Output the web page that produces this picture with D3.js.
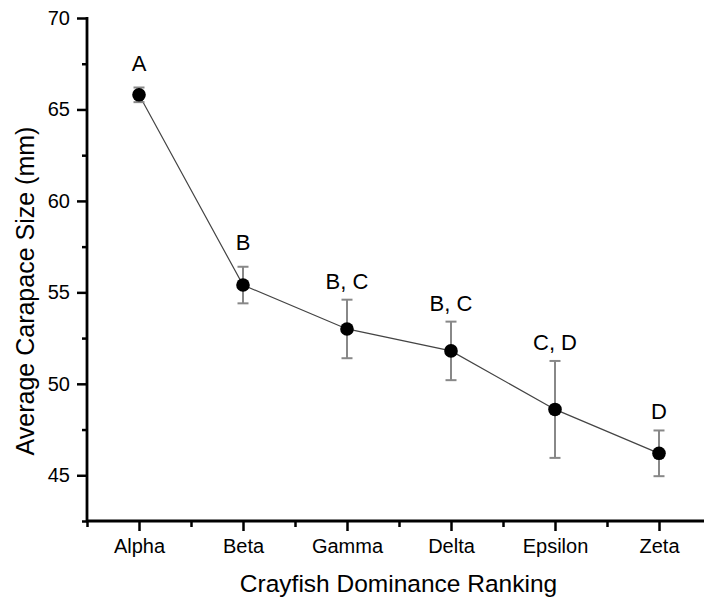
<!DOCTYPE html>
<html>
<head>
<meta charset="utf-8">
<script src="https://cdn.jsdelivr.net/npm/d3@7"></script>
<style>
  body { margin: 0; background: #fff; }
  svg text { font-family: "Liberation Sans", Arial, sans-serif; fill: #000; }
</style>
</head>
<body>
<svg id="chart"></svg>
<script>
// data
const categories = ['Alpha', 'Beta', 'Gamma', 'Delta', 'Epsilon', 'Zeta'];
const means = [65.8, 55.4, 53.0, 51.8, 48.6, 46.2];
const errors = [0.4, 1.0, 1.6, 1.6, 2.65, 1.25];
const letters = ['A', 'B', 'B, C', 'B, C', 'C, D', 'D'];
const yTicks = [45, 50, 55, 60, 65, 70];

const width = 704, height = 602;
const svg = d3.select('#chart').attr('width', width).attr('height', height);

const x = d3.scaleLinear().domain([0.5, 6.5]).range([87, 711]);
const y = d3.scaleLinear().domain([42.5, 70]).range([521, 18]);

const points = categories.map((c, i) => ({
    name: c, idx: i + 1, mean: means[i], err: errors[i], letter: letters[i]
}));

// y axis
const yAxis = svg.append('g').attr('transform', 'translate(87,0)');
yAxis.append('g')
    .call(d3.axisLeft(y).tickValues(d3.range(42.5, 70.01, 2.5).filter(v => v % 5 !== 0)).tickSize(5).tickFormat(''))
    .call(g => g.select('.domain').remove())
    .selectAll('line').attr('stroke-width', 2.5);
yAxis.append('g')
    .call(d3.axisLeft(y).tickValues(yTicks).tickSize(10).tickPadding(7))
    .call(g => g.select('.domain').remove())
    .call(g => g.selectAll('line').attr('stroke-width', 2.5))
    .call(g => g.selectAll('text').style('font-size', '20px'));
yAxis.append('line')
    .attr('x1', 0).attr('x2', 0).attr('y1', y(70) - 1).attr('y2', y(42.5) + 1)
    .attr('stroke', '#000').attr('stroke-width', 2.8);

// x axis
const xAxis = svg.append('g').attr('transform', 'translate(0,521)');
xAxis.append('g')
    .call(d3.axisBottom(x).tickValues(d3.range(0.5, 6.6, 1)).tickSize(6).tickFormat(''))
    .call(g => g.select('.domain').remove())
    .selectAll('line').attr('stroke-width', 2.5);
xAxis.append('g')
    .call(d3.axisBottom(x).tickValues(points.map(d => d.idx)).tickSize(10).tickPadding(8)
        .tickFormat(d => categories[d - 1]))
    .call(g => g.select('.domain').remove())
    .call(g => g.selectAll('line').attr('stroke-width', 2.5))
    .call(g => g.selectAll('text').style('font-size', '20px'));
xAxis.append('line')
    .attr('x1', 86).attr('x2', 711).attr('y1', 0).attr('y2', 0)
    .attr('stroke', '#000').attr('stroke-width', 2.8);

// axis titles
svg.append('text')
    .attr('x', (240 + 557) / 2).attr('y', 592)
    .attr('text-anchor', 'middle')
    .style('font-size', '24.5px')
    .text('Crayfish Dominance Ranking');
svg.append('text')
    .attr('transform', 'translate(34,291) rotate(-90)')
    .attr('text-anchor', 'middle')
    .style('font-size', '25px')
    .text('Average Carapace Size (mm)');

// connecting line
svg.append('path')
    .datum(points)
    .attr('fill', 'none')
    .attr('stroke', '#444')
    .attr('stroke-width', 1.2)
    .attr('d', d3.line().x(d => x(d.idx)).y(d => y(d.mean)));

// error bars
const bars = svg.append('g').attr('stroke', '#888').attr('stroke-width', 2);
bars.selectAll('line.v')
    .data(points).join('line').attr('class', 'v')
    .attr('x1', d => x(d.idx)).attr('x2', d => x(d.idx))
    .attr('y1', d => y(d.mean + d.err)).attr('y2', d => y(d.mean - d.err));
bars.selectAll('line.top')
    .data(points).join('line').attr('class', 'top')
    .attr('x1', d => x(d.idx) - 5.5).attr('x2', d => x(d.idx) + 5.5)
    .attr('y1', d => y(d.mean + d.err)).attr('y2', d => y(d.mean + d.err));
bars.selectAll('line.bot')
    .data(points).join('line').attr('class', 'bot')
    .attr('x1', d => x(d.idx) - 5.5).attr('x2', d => x(d.idx) + 5.5)
    .attr('y1', d => y(d.mean - d.err)).attr('y2', d => y(d.mean - d.err));

// points
svg.append('g').selectAll('circle')
    .data(points).join('circle')
    .attr('cx', d => x(d.idx)).attr('cy', d => y(d.mean))
    .attr('r', 6.8).attr('fill', '#000');

// significance letters
svg.append('g').selectAll('text')
    .data(points).join('text')
    .attr('x', d => x(d.idx)).attr('y', (d, i) => y(d.mean + d.err) - (i < 2 ? 17 : 11))
    .attr('text-anchor', 'middle')
    .style('font-size', '22px')
    .text(d => d.letter);
</script>
</body>
</html>
